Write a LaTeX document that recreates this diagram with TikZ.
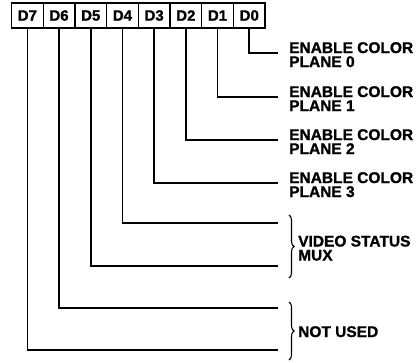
\documentclass[tikz,border=0pt]{standalone}
\usepackage{fontspec}
\setmainfont{Liberation Sans}[BoldFeatures={FakeBold=1.2}]
\usetikzlibrary{decorations.pathreplacing}
\begin{document}
\begin{tikzpicture}[x=1pt,y=1pt,
  bitbox/.style={draw,line width=1.3pt,minimum width=31.7pt,minimum height=25pt,inner sep=0pt,font=\bfseries\fontsize{15}{15}\selectfont},
  lead/.style={line width=1.6pt},
  lbl/.style={anchor=north west,inner sep=0pt,align=left,font=\bfseries\fontsize{15.5}{14}\selectfont},
  brc/.style={decorate,decoration={brace,amplitude=5pt},line width=1.1pt}]
\useasboundingbox (0,0) rectangle (419,-362);
% bit boxes
\foreach \n [count=\i from 0] in {7,6,5,4,3,2,1,0}{
  \node[bitbox] (d\n) at ({27.35+31.7*\i},-15.5) {D\n};
}
% connector end points
\coordinate (c0) at (278,-53);
\coordinate (c1) at (278,-97);
\coordinate (c2) at (278,-140);
\coordinate (c3) at (278,-183);
\coordinate (c4) at (278,-223);
\coordinate (c5) at (278,-266);
\coordinate (c6) at (278,-308);
\coordinate (c7) at (278,-350);
\foreach \n in {0,...,7}{
  \draw[lead] (d\n.south) |- (c\n);
}
% labels
\node[lbl] (l0) at (289,-42) {ENABLE COLOR\\PLANE 0};
\node[lbl] (l1) at (289,-86) {ENABLE COLOR\\PLANE 1};
\node[lbl] (l2) at (289,-129) {ENABLE COLOR\\PLANE 2};
\node[lbl] (l3) at (289,-172) {ENABLE COLOR\\PLANE 3};
% braces
\coordinate (b1t) at (289,-215);
\coordinate (b1b) at (289,-278);
\coordinate (b2t) at (289,-302);
\coordinate (b2b) at (289,-360);
\draw[brc] (b1t) -- (b1b);
\draw[brc] (b2t) -- (b2b);
\node[lbl] (l4) at (298,-235.5) {VIDEO STATUS\\MUX};
\node[lbl] (l5) at (298,-326) {NOT USED};
\end{tikzpicture}
\end{document}
